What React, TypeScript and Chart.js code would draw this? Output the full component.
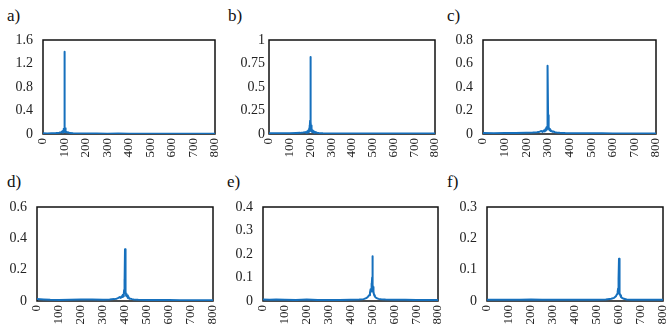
import React, { useEffect, useRef } from 'react';
import { Chart, registerables } from 'chart.js';

Chart.register(...registerables);

const FONT = "'Liberation Serif', serif";
const LINE_COLOR = '#1670bd';

// x-axis tick values (frequency)
const xTickValues = [0, 100, 200, 300, 400, 500, 600, 700, 800];

// panel labels
const panelLabels = ['a)', 'b)', 'c)', 'd)', 'e)', 'f)'];

// y-axis maxima and steps
const yMaxes = [1.6, 1, 0.8, 0.6, 0.4, 0.3];
const ySteps = [0.4, 0.25, 0.2, 0.2, 0.1, 0.1];

// series a (peak at 100)
const xA = [0, 20, 40, 60, 75, 85, 90, 93, 95, 96, 97, 98, 99, 100, 101, 102, 103, 104, 106, 110, 115, 125, 140, 170, 200, 250, 300, 350, 400, 450, 500, 550, 600, 650, 700, 750, 800];
const yA = [0.012, 0.01, 0.012, 0.015, 0.02, 0.03, 0.045, 0.02, 0.06, 0.03, 0.09, 0.05, 0.3, 1.4, 0.25, 0.06, 0.1, 0.03, 0.05, 0.025, 0.03, 0.015, 0.012, 0.01, 0.008, 0.007, 0.006, 0.007, 0.005, 0.006, 0.005, 0.006, 0.005, 0.005, 0.004, 0.005, 0.004];

// series b (peak at 200)
const xB = [0, 50, 100, 130, 150, 165, 175, 180, 184, 187, 190, 192, 194, 195, 196, 197, 198, 199, 200, 201, 202, 203, 204, 205, 206, 208, 210, 213, 216, 220, 225, 232, 240, 260, 300, 350, 400, 450, 500, 550, 600, 650, 700, 750, 800];
const yB = [0.008, 0.007, 0.008, 0.01, 0.012, 0.015, 0.02, 0.012, 0.028, 0.015, 0.04, 0.02, 0.06, 0.03, 0.09, 0.045, 0.14, 0.3, 0.82, 0.2, 0.13, 0.04, 0.09, 0.03, 0.06, 0.02, 0.04, 0.015, 0.03, 0.012, 0.02, 0.012, 0.01, 0.008, 0.006, 0.006, 0.005, 0.005, 0.005, 0.004, 0.005, 0.004, 0.004, 0.004, 0.004];

// series c (peak at 300)
const xC = [0, 50, 100, 150, 200, 230, 250, 262, 270, 276, 281, 285, 288, 290, 292, 294, 295, 296, 297, 298, 299, 300, 301, 302, 303, 304, 305, 307, 309, 312, 315, 320, 325, 332, 340, 355, 380, 420, 500, 550, 600, 650, 700, 750, 800];
const yC = [0.008, 0.007, 0.008, 0.008, 0.01, 0.012, 0.015, 0.02, 0.025, 0.018, 0.03, 0.022, 0.04, 0.028, 0.05, 0.035, 0.06, 0.045, 0.09, 0.17, 0.2, 0.58, 0.15, 0.16, 0.08, 0.05, 0.06, 0.035, 0.045, 0.025, 0.03, 0.02, 0.022, 0.015, 0.012, 0.01, 0.008, 0.007, 0.006, 0.006, 0.005, 0.005, 0.005, 0.005, 0.005];

// series d (peak at 400)
const xD = [0, 30, 60, 100, 150, 200, 250, 300, 330, 350, 362, 370, 376, 381, 385, 388, 390, 392, 394, 395, 396, 397, 398, 399, 400, 401, 402, 403, 404, 405, 406, 408, 410, 413, 416, 420, 425, 432, 440, 460, 500, 550, 600, 650, 700, 750, 800];
const yD = [0.012, 0.01, 0.008, 0.007, 0.008, 0.01, 0.009, 0.008, 0.01, 0.012, 0.015, 0.02, 0.025, 0.02, 0.03, 0.025, 0.04, 0.03, 0.05, 0.045, 0.07, 0.06, 0.14, 0.1, 0.33, 0.14, 0.08, 0.05, 0.06, 0.035, 0.045, 0.03, 0.035, 0.02, 0.025, 0.015, 0.015, 0.012, 0.01, 0.008, 0.007, 0.006, 0.006, 0.005, 0.005, 0.005, 0.005];

// series e (peak at 500)
const xE = [0, 30, 60, 100, 150, 200, 250, 300, 350, 400, 440, 460, 472, 480, 485, 489, 492, 494, 495, 496, 497, 498, 499, 500, 501, 502, 503, 504, 505, 506, 508, 511, 515, 520, 528, 540, 560, 600, 650, 700, 750, 800];
const yE = [0.006, 0.005, 0.006, 0.005, 0.004, 0.006, 0.004, 0.004, 0.004, 0.005, 0.006, 0.008, 0.012, 0.018, 0.025, 0.035, 0.05, 0.04, 0.065, 0.05, 0.075, 0.06, 0.1, 0.19, 0.08, 0.07, 0.05, 0.06, 0.035, 0.04, 0.025, 0.02, 0.015, 0.012, 0.009, 0.007, 0.006, 0.005, 0.005, 0.004, 0.004, 0.004];

// series f (peak at 600)
const xF = [0, 50, 100, 150, 200, 250, 300, 350, 400, 450, 500, 540, 565, 578, 586, 591, 594, 596, 597, 598, 599, 600, 601, 602, 603, 604, 606, 609, 614, 622, 635, 660, 700, 750, 800];
const yF = [0.004, 0.004, 0.004, 0.004, 0.005, 0.004, 0.004, 0.004, 0.004, 0.004, 0.004, 0.005, 0.007, 0.01, 0.015, 0.022, 0.03, 0.04, 0.05, 0.045, 0.07, 0.135, 0.05, 0.04, 0.03, 0.025, 0.018, 0.013, 0.01, 0.007, 0.005, 0.004, 0.004, 0.004, 0.004];

const seriesX = [xA, xB, xC, xD, xE, xF];
const seriesY = [yA, yB, yC, yD, yE, yF];

// layout: plot boxes [left, top, right, bottom] in page pixels
const plotBoxes = [
  [43, 40, 215, 134],
  [269, 40, 435, 134],
  [483, 40, 656, 134],
  [37, 207, 213, 301],
  [263, 207, 438, 301],
  [487, 207, 663, 301],
];
const labelPositions = [
  [7, 7],
  [228, 7],
  [447, 7],
  [7, 173],
  [227, 173],
  [447, 173],
];
const yLabelPads = [10, 4, 10, 10, 10, 10];

const Y_AXIS_W = 40;
const X_AXIS_H = 36;
const PAD_TOP = 12;
const PAD_RIGHT = 12;

const framePlugin = {
  id: 'frame',
  beforeDatasetsDraw(chart: any) {
    const { ctx, chartArea } = chart;
    ctx.save();
    ctx.strokeStyle = '#111';
    ctx.lineWidth = 1.5;
    ctx.strokeRect(chartArea.left, chartArea.top, chartArea.right - chartArea.left, chartArea.bottom - chartArea.top);
    ctx.restore();
  },
};

const fmt = (v: any) => String(Math.round(Number(v) * 100) / 100);

function Panel({ idx }: { idx: number }) {
  const ref = useRef<HTMLCanvasElement | null>(null);
  const [L, T, R, B] = plotBoxes[idx];
  const left = L - Y_AXIS_W;
  const top = T - PAD_TOP;
  const width = R - L + Y_AXIS_W + PAD_RIGHT;
  const height = B - T + PAD_TOP + X_AXIS_H;

  useEffect(() => {
    if (!ref.current) return;
    const xs = seriesX[idx];
    const ys = seriesY[idx];
    const data = xs.map((x, i) => ({ x, y: ys[i] }));
    const chart = new Chart(ref.current, {
      type: 'line',
      data: {
        datasets: [
          {
            data,
            borderColor: LINE_COLOR,
            borderWidth: 2,
            borderJoinStyle: 'round',
            borderCapStyle: 'round',
            pointRadius: 0,
            tension: 0,
            fill: false,
          },
        ],
      },
      options: {
        animation: false,
        responsive: false,
        devicePixelRatio: 1,
        layout: { padding: { left: 0, top: PAD_TOP, right: PAD_RIGHT, bottom: 0 } },
        plugins: { legend: { display: false }, tooltip: { enabled: false } },
        scales: {
          x: {
            type: 'linear',
            min: 0,
            max: 800,
            afterBuildTicks: (s: any) => {
              s.ticks = xTickValues.map((v) => ({ value: v }));
            },
            afterFit: (s: any) => {
              s.height = X_AXIS_H;
              s.paddingLeft = 0;
              s.paddingRight = 0;
            },
            grid: { display: false, drawTicks: false },
            border: { display: false },
            ticks: {
              autoSkip: false,
              minRotation: 90,
              maxRotation: 90,
              padding: 4,
              color: '#222',
              font: { family: FONT, size: 13 },
              callback: fmt,
            },
          },
          y: {
            type: 'linear',
            min: 0,
            max: yMaxes[idx],
            afterFit: (s: any) => {
              s.width = Y_AXIS_W;
              s.paddingTop = 0;
              s.paddingBottom = 0;
            },
            grid: { display: false, drawTicks: false },
            border: { display: false },
            ticks: {
              stepSize: ySteps[idx],
              padding: yLabelPads[idx],
              color: '#222',
              font: { family: FONT, size: 14 },
              callback: fmt,
            },
          },
        },
      },
      plugins: [framePlugin],
    } as any);
    return () => chart.destroy();
  }, [idx]);

  return (
    <canvas
      ref={ref}
      width={width}
      height={height}
      style={{ position: 'absolute', left, top, width, height }}
    />
  );
}

export default function App() {
  return (
    <div style={{ position: 'absolute', left: 0, top: 0, width: 666, height: 333, background: '#fff', overflow: 'hidden' }}>
      {panelLabels.map((lab, i) => (
        <div
          key={lab}
          style={{
            position: 'absolute',
            left: labelPositions[i][0],
            top: labelPositions[i][1],
            fontFamily: FONT,
            fontSize: 17,
            lineHeight: '17px',
            color: '#111',
          }}
        >
          {lab}
        </div>
      ))}
      {panelLabels.map((lab, i) => (
        <Panel key={'p' + lab} idx={i} />
      ))}
    </div>
  );
}
